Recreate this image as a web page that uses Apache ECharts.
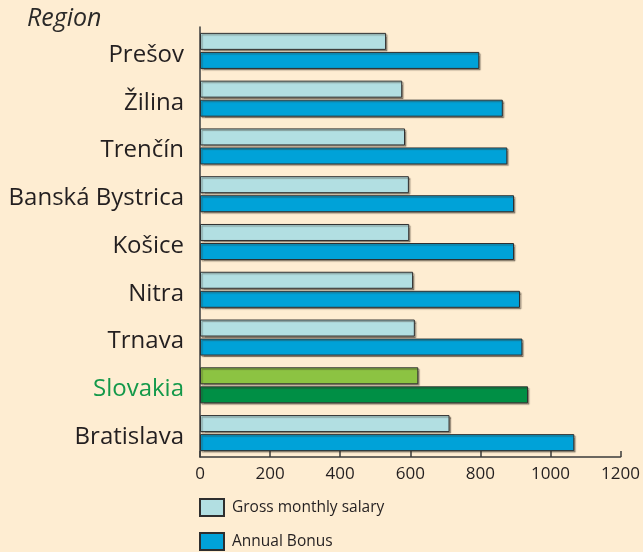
<!DOCTYPE html>
<html>
<head>
<meta charset="utf-8">
<script src="https://cdn.jsdelivr.net/npm/echarts@6/dist/echarts.min.js"></script>
<style>html,body{margin:0;padding:0;background:#feedd2;}#c{width:643px;height:552px;}</style>
</head>
<body>
<div id="c"></div>
<script>
const regions = ["Prešov","Žilina","Trenčín","Banská Bystrica","Košice","Nitra","Trnava","Slovakia","Bratislava"];
const grossSalary = [531, 577, 585, 596, 597, 608, 613, 623, 712];
const annualBonus = [797, 864, 877, 896, 896, 913, 920, 936, 1068];
const xTicks = [0, 200, 400, 600, 800, 1000, 1200];
const highlight = "Slovakia";

const FONT = "Open Sans";
const chart = echarts.init(document.getElementById('c'));
const lightColor = '#b2dfe2', blueColor = '#00a2d8';
const lightGreen = '#8cc342', darkGreen = '#008f45';
const shadow = {shadowColor:'rgba(60,50,40,0.45)', shadowOffsetX:1.5, shadowOffsetY:1.5, shadowBlur:1};

function mk(vals, special){
  return vals.map((v,i)=> regions[i]===highlight
    ? {value:v, itemStyle:{color:special}}
    : v);
}

chart.setOption({
  backgroundColor:'#feedd2',
  animation:false,
  textStyle:{fontFamily:FONT},
  graphic:[{type:'text', left:27, top:6, style:{text:'Region', font:'italic 25px "Open Sans"', fill:'#2b2a29'}}],
  grid:{left:200, right:21, top:27, bottom:95},
  legend:{
    orient:'vertical', left:199, top:498, padding:0, itemWidth:24, itemHeight:17, itemGap:15,
    icon:'rect',
    textStyle:{fontSize:15.5, color:'#231f20', fontFamily:FONT, padding:[0,0,0,3]},
    data:['Gross monthly salary','Annual Bonus']
  },
  xAxis:{
    type:'value', min:0, max:1200, interval:200,
    axisLine:{show:true, lineStyle:{color:'#3b3b3b', width:1.5}},
    axisTick:{show:true, inside:true, length:6, lineStyle:{color:'#3b3b3b', width:1.5}},
    splitLine:{show:false},
    axisLabel:{fontSize:17, color:'#231f20', margin:9, formatter:v=> xTicks.includes(v)? String(v):''}
  },
  yAxis:{
    type:'category', data:regions, inverse:true,
    axisLine:{show:true, lineStyle:{color:'#3b3b3b', width:1.5}},
    axisTick:{show:false},
    axisLabel:{fontSize:24, color:'#231f20', margin:16, padding:[8,0,0,0],
      formatter:v=> v===highlight ? '{g|'+v+'}' : v,
      rich:{g:{color:'#14994a', fontSize:24, fontFamily:FONT}}}
  },
  series:[
    {name:'Gross monthly salary', type:'bar', data:mk(grossSalary, lightGreen),
     barWidth:17, barGap:'12%',
     itemStyle:Object.assign({color:lightColor, borderColor:'#2e2e2e', borderWidth:1}, shadow)},
    {name:'Annual Bonus', type:'bar', data:mk(annualBonus, darkGreen),
     barWidth:17, barGap:'12%',
     itemStyle:Object.assign({color:blueColor, borderColor:'#2e2e2e', borderWidth:1}, shadow)}
  ]
});
</script>
</body>
</html>
